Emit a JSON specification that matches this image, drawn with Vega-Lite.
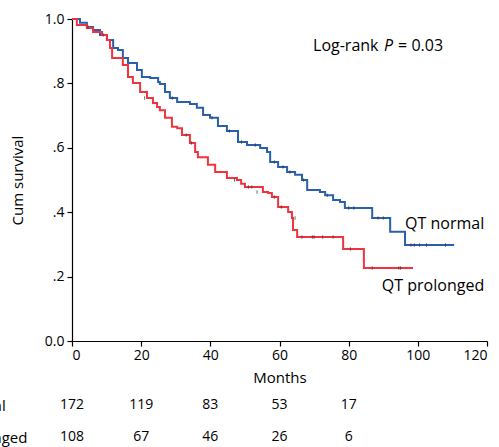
{
  "$schema": "https://vega.github.io/schema/vega-lite/v6.json",
  "width": 415,
  "height": 322,
  "autosize": {"type": "none"},
  "padding": {"left": 72, "top": 19, "right": 12, "bottom": 106},
  "background": "white",
  "config": {
    "view": {"stroke": null},
    "font": "Open Sans",
    "axis": {
      "domainColor": "black", "tickColor": "black", "labelColor": "black", "titleColor": "black",
      "labelFont": "Open Sans", "titleFont": "Open Sans", "labelFontSize": 14, "titleFontSize": 15,
      "titleFontWeight": "normal", "grid": false, "tickSize": 5, "domainWidth": 1.2, "tickWidth": 1.2
    }
  },
  "datasets": {
    "curves": [
      {"g":"QT normal","month":0,"surv":1.0},{"g":"QT normal","month":2.3,"surv":0.988},{"g":"QT normal","month":4.3,"surv":0.975},
      {"g":"QT normal","month":6.1,"surv":0.966},{"g":"QT normal","month":8.1,"surv":0.95},{"g":"QT normal","month":10.1,"surv":0.935},
      {"g":"QT normal","month":11.9,"surv":0.91},{"g":"QT normal","month":13.3,"surv":0.904},{"g":"QT normal","month":14.7,"surv":0.879},
      {"g":"QT normal","month":16.2,"surv":0.863},{"g":"QT normal","month":18.8,"surv":0.842},{"g":"QT normal","month":20.2,"surv":0.82},
      {"g":"QT normal","month":22.6,"surv":0.817},{"g":"QT normal","month":24.9,"surv":0.804},{"g":"QT normal","month":25.4,"surv":0.798},
      {"g":"QT normal","month":26.9,"surv":0.773},{"g":"QT normal","month":28.3,"surv":0.755},{"g":"QT normal","month":30.4,"surv":0.742},
      {"g":"QT normal","month":34.1,"surv":0.736},{"g":"QT normal","month":36.1,"surv":0.724},{"g":"QT normal","month":37.9,"surv":0.702},
      {"g":"QT normal","month":39.9,"surv":0.693},{"g":"QT normal","month":42.2,"surv":0.668},{"g":"QT normal","month":44.8,"surv":0.652},
      {"g":"QT normal","month":48.0,"surv":0.618},{"g":"QT normal","month":50.6,"surv":0.609},{"g":"QT normal","month":54.4,"surv":0.599},
      {"g":"QT normal","month":56.4,"surv":0.587},{"g":"QT normal","month":57.3,"surv":0.556},{"g":"QT normal","month":59.6,"surv":0.54},
      {"g":"QT normal","month":62.2,"surv":0.525},{"g":"QT normal","month":64.5,"surv":0.516},{"g":"QT normal","month":66.5,"surv":0.5},
      {"g":"QT normal","month":68.0,"surv":0.469},{"g":"QT normal","month":71.7,"surv":0.463},{"g":"QT normal","month":73.2,"surv":0.453},
      {"g":"QT normal","month":75.5,"surv":0.438},{"g":"QT normal","month":77.5,"surv":0.432},{"g":"QT normal","month":78.9,"surv":0.413},
      {"g":"QT normal","month":86.8,"surv":0.382},{"g":"QT normal","month":92.0,"surv":0.339},{"g":"QT normal","month":96.3,"surv":0.298},
      {"g":"QT normal","month":110.5,"surv":0.298},
      {"g":"QT prolonged","month":0,"surv":1.0},{"g":"QT prolonged","month":1.4,"surv":0.981},{"g":"QT prolonged","month":4.3,"surv":0.972},
      {"g":"QT prolonged","month":6.1,"surv":0.96},{"g":"QT prolonged","month":8.7,"surv":0.95},{"g":"QT prolonged","month":10.1,"surv":0.935},
      {"g":"QT prolonged","month":11.0,"surv":0.91},{"g":"QT prolonged","month":11.6,"surv":0.879},{"g":"QT prolonged","month":14.7,"surv":0.857},
      {"g":"QT prolonged","month":16.2,"surv":0.82},{"g":"QT prolonged","month":17.6,"surv":0.801},{"g":"QT prolonged","month":19.7,"surv":0.773},
      {"g":"QT prolonged","month":21.7,"surv":0.755},{"g":"QT prolonged","month":23.4,"surv":0.739},{"g":"QT prolonged","month":24.6,"surv":0.727},
      {"g":"QT prolonged","month":25.4,"surv":0.717},{"g":"QT prolonged","month":26.9,"surv":0.693},{"g":"QT prolonged","month":28.9,"surv":0.665},
      {"g":"QT prolonged","month":30.4,"surv":0.661},{"g":"QT prolonged","month":31.8,"surv":0.64},{"g":"QT prolonged","month":34.1,"surv":0.615},
      {"g":"QT prolonged","month":35.6,"surv":0.587},{"g":"QT prolonged","month":36.4,"surv":0.571},{"g":"QT prolonged","month":39.3,"surv":0.547},
      {"g":"QT prolonged","month":41.4,"surv":0.525},{"g":"QT prolonged","month":44.8,"surv":0.506},{"g":"QT prolonged","month":47.7,"surv":0.5},
      {"g":"QT prolonged","month":48.9,"surv":0.488},{"g":"QT prolonged","month":50.0,"surv":0.478},{"g":"QT prolonged","month":55.2,"surv":0.463},
      {"g":"QT prolonged","month":56.7,"surv":0.46},{"g":"QT prolonged","month":57.8,"surv":0.447},{"g":"QT prolonged","month":59.6,"surv":0.416},
      {"g":"QT prolonged","month":62.5,"surv":0.401},{"g":"QT prolonged","month":63.6,"surv":0.382},{"g":"QT prolonged","month":63.9,"surv":0.345},
      {"g":"QT prolonged","month":65.1,"surv":0.323},{"g":"QT prolonged","month":78.4,"surv":0.286},{"g":"QT prolonged","month":84.4,"surv":0.227},
      {"g":"QT prolonged","month":98.6,"surv":0.227}
    ],
    "censors": [
      {"month":4.6,"surv":0.975},{"month":9,"surv":0.95},{"month":29,"surv":0.755},{"month":40.5,"surv":0.693},{"month":45.5,"surv":0.652},
      {"month":49,"surv":0.618},{"month":53,"surv":0.609},{"month":58.5,"surv":0.556},{"month":61,"surv":0.54},{"month":63,"surv":0.525},
      {"month":67,"surv":0.5},{"month":73.8,"surv":0.453},{"month":80,"surv":0.413},{"month":81.5,"surv":0.413},{"month":88.5,"surv":0.382},
      {"month":90,"surv":0.382},{"month":98,"surv":0.298},{"month":99,"surv":0.298},{"month":100.5,"surv":0.298},{"month":102.5,"surv":0.298},
      {"month":108,"surv":0.298},
      {"month":21,"surv":0.755},{"month":33,"surv":0.64},{"month":34.5,"surv":0.615},{"month":47,"surv":0.5},{"month":51,"surv":0.478},
      {"month":52,"surv":0.478},{"month":53.5,"surv":0.463},{"month":58.5,"surv":0.447},{"month":60.5,"surv":0.416},{"month":64.5,"surv":0.382},
      {"month":66.5,"surv":0.323},{"month":69.5,"surv":0.323},{"month":70,"surv":0.323},{"month":72.5,"surv":0.323},{"month":75.5,"surv":0.323},
      {"month":80.5,"surv":0.286},{"month":86.8,"surv":0.227},{"month":94.5,"surv":0.227},{"month":95,"surv":0.227}
    ],
    "atrisk": [
      {"g":"QT normal","month":0,"n":172},{"g":"QT normal","month":20,"n":119},{"g":"QT normal","month":40,"n":83},
      {"g":"QT normal","month":60,"n":53},{"g":"QT normal","month":80,"n":17},
      {"g":"QT prolonged","month":0,"n":108},{"g":"QT prolonged","month":20,"n":67},{"g":"QT prolonged","month":40,"n":46},
      {"g":"QT prolonged","month":60,"n":26},{"g":"QT prolonged","month":80,"n":6}
    ]
  },
  "layer": [
    {
      "layer": [
        {
          "data": {"name": "curves"},
          "mark": {"type": "line", "interpolate": "step-after", "strokeWidth": 2},
          "encoding": {
            "x": {"field": "month", "type": "quantitative", "title": "Months",
                  "scale": {"domain": [0, 120], "nice": false},
                  "axis": {"values": [0, 20, 40, 60, 80, 100, 120], "labelPadding": 2, "titlePadding": 8}},
            "y": {"field": "surv", "type": "quantitative", "title": "Cum survival",
                  "scale": {"domain": [0, 1], "nice": false},
                  "axis": {"values": [0, 0.2, 0.4, 0.6, 0.8, 1], "labelPadding": 3, "titlePadding": 19,
                           "labelExpr": "datum.value == 0 ? '0.0' : datum.value == 1 ? '1.0' : replace(format(datum.value, '.1f'), '0.', '.')"}},
            "color": {"field": "g", "type": "nominal", "legend": null,
                      "scale": {"domain": ["QT normal", "QT prolonged"], "range": ["#2a5fac", "#f0343f"]}}
          }
        },
        {
          "data": {"name": "censors"},
          "mark": {"type": "tick", "orient": "vertical", "size": 3.5, "thickness": 1, "color": "#333"},
          "encoding": {
            "x": {"field": "month", "type": "quantitative", "title": "Months"},
            "y": {"field": "surv", "type": "quantitative", "title": "Cum survival"}
          }
        },
        {
          "data": {"values": [{}]},
          "layer": [
            {"mark": {"type": "text", "align": "left", "baseline": "middle", "fontSize": 16, "font": "Open Sans", "color": "black"},
             "encoding": {"x": {"datum": 69.7, "type": "quantitative", "title": "Months"}, "y": {"datum": 0.916, "type": "quantitative", "title": "Cum survival"}, "text": {"value": "Log-rank"}}},
            {"mark": {"type": "text", "align": "left", "baseline": "middle", "fontSize": 16, "font": "Open Sans", "fontStyle": "italic", "color": "black"},
             "encoding": {"x": {"datum": 90.2, "type": "quantitative", "title": "Months"}, "y": {"datum": 0.916, "type": "quantitative", "title": "Cum survival"}, "text": {"value": "P"}}},
            {"mark": {"type": "text", "align": "left", "baseline": "middle", "fontSize": 16, "font": "Open Sans", "color": "black"},
             "encoding": {"x": {"datum": 94.3, "type": "quantitative", "title": "Months"}, "y": {"datum": 0.916, "type": "quantitative", "title": "Cum survival"}, "text": {"value": "= 0.03"}}},
            {"mark": {"type": "text", "align": "left", "baseline": "middle", "fontSize": 16, "font": "Open Sans", "color": "black"},
             "encoding": {"x": {"datum": 96.3, "type": "quantitative", "title": "Months"}, "y": {"datum": 0.363, "type": "quantitative", "title": "Cum survival"}, "text": {"value": "QT normal"}}},
            {"mark": {"type": "text", "align": "left", "baseline": "middle", "fontSize": 16, "font": "Open Sans", "color": "black"},
             "encoding": {"x": {"datum": 89.6, "type": "quantitative", "title": "Months"}, "y": {"datum": 0.171, "type": "quantitative", "title": "Cum survival"}, "text": {"value": "QT prolonged"}}}
          ]
        }
      ]
    },
    {
      "data": {"name": "atrisk"},
      "mark": {"type": "text", "align": "center", "baseline": "middle", "fontSize": 14, "font": "Open Sans", "color": "black"},
      "encoding": {
        "x": {"field": "month", "type": "quantitative", "title": "Months"},
        "y": {"field": "g", "type": "nominal",
              "scale": {"type": "point", "domain": ["QT normal", "QT prolonged"], "range": [386, 418], "padding": 0},
              "axis": {"orient": "left", "title": null, "domain": false, "ticks": false, "tickSize": 0,
                       "labelAlign": "left", "labelPadding": 141, "labelFontSize": 15}},
        "text": {"field": "n", "type": "quantitative"}
      }
    }
  ],
  "resolve": {"scale": {"y": "independent"}}
}
